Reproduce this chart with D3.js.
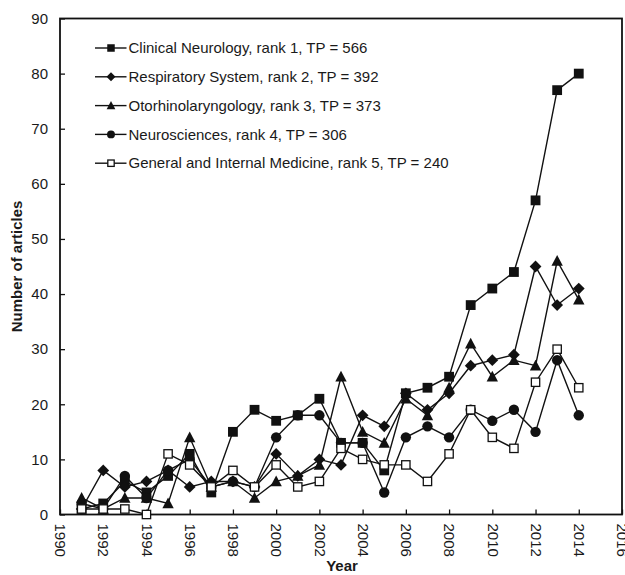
<!DOCTYPE html>
<html>
<head>
<meta charset="utf-8">
<script src="https://cdn.jsdelivr.net/npm/d3@7/dist/d3.min.js"></script>
<style>
  html, body { margin: 0; padding: 0; background: #fff; }
  svg { display: block; }
  text { font-family: "Liberation Sans", Arial, sans-serif; fill: #1a1a1a; }
</style>
</head>
<body>
<svg id="chart" width="625" height="575"></svg>
<script>
const years = [1991,1992,1993,1994,1995,1996,1997,1998,1999,2000,2001,2002,2003,2004,2005,2006,2007,2008,2009,2010,2011,2012,2013,2014];
const seriesNames = [
  "Clinical Neurology, rank 1, TP = 566",
  "Respiratory System, rank 2, TP = 392",
  "Otorhinolaryngology, rank 3, TP = 373",
  "Neurosciences, rank 4, TP = 306",
  "General and Internal Medicine, rank 5, TP = 240"
];
const clinicalNeurology = [1,2,6,4,7,11,4,15,19,17,18,21,13,13,8,22,23,25,38,41,44,57,77,80];
const respiratorySystem = [1,8,5,6,8,5,6,6,5,11,7,10,9,18,16,22,19,22,27,28,29,45,38,41];
const otorhinolaryngology = [3,1,3,3,2,14,5,6,3,6,7,9,25,15,13,21,18,23,31,25,28,27,46,39];
const neurosciences = [2,1,7,3,8,10,5,6,5,14,18,18,13,13,4,14,16,14,19,17,19,15,28,18];
const generalMedicine = [1,1,1,0,11,9,5,8,5,9,5,6,12,10,9,9,6,11,19,14,12,24,30,23];
const markerTypes = ["square","diamond","triangle","circle","openSquare"];
const xTicks = [1990,1992,1994,1996,1998,2000,2002,2004,2006,2008,2010,2012,2014,2016];
const yTicks = [0,10,20,30,40,50,60,70,80,90];

const allSeries = [clinicalNeurology, respiratorySystem, otorhinolaryngology, neurosciences, generalMedicine];

const svg = d3.select("#chart");
const L = 60, R = 622, T = 18.5, B = 514.5;
const x = d3.scaleLinear().domain([1990, 2016]).range([L, R]);
const y = d3.scaleLinear().domain([0, 90]).range([B, T]);

// frame
svg.append("rect").attr("x", L).attr("y", T).attr("width", R - L).attr("height", B - T)
  .attr("fill", "none").attr("stroke", "#111").attr("stroke-width", 1.8);

// y axis
const yAxis = d3.axisLeft(y).tickValues(yTicks).tickSizeInner(-5).tickSizeOuter(0).tickPadding(12);
const gy = svg.append("g").attr("transform", `translate(${L},0)`).call(yAxis);
gy.select(".domain").remove();
gy.selectAll(".tick line").attr("stroke", "#111").attr("stroke-width", 1.3);
gy.selectAll(".tick text").attr("font-size", 15).attr("font-family", "Liberation Sans, Arial, sans-serif").attr("fill", "#1a1a1a");

// x axis
const xAxis = d3.axisBottom(x).tickValues(xTicks).tickFormat(d3.format("d")).tickSizeInner(-5).tickSizeOuter(0);
const gx = svg.append("g").attr("transform", `translate(0,${B})`).call(xAxis);
gx.select(".domain").remove();
gx.selectAll(".tick line").attr("stroke", "#111").attr("stroke-width", 1.3);
gx.selectAll(".tick text")
  .attr("font-size", 15).attr("font-family", "Liberation Sans, Arial, sans-serif").attr("fill", "#1a1a1a")
  .attr("text-anchor", "start")
  .attr("transform", "rotate(90)")
  .attr("x", 9).attr("y", 0).attr("dy", "0.35em");

// axis titles
svg.append("text").attr("x", (L + R) / 2 + 1).attr("y", 571).attr("text-anchor", "middle")
  .attr("font-size", 15).attr("font-weight", "bold").text("Year");
svg.append("text").attr("transform", `translate(22,${(T + B) / 2}) rotate(-90)`).attr("text-anchor", "middle")
  .attr("font-size", 15).attr("font-weight", "bold").text("Number of articles");

function drawMarker(g, type, cx, cy, s) {
  if (type === "square") {
    g.append("rect").attr("x", cx - s/2).attr("y", cy - s/2).attr("width", s).attr("height", s).attr("fill", "#111");
  } else if (type === "diamond") {
    const h = s * 0.6;
    g.append("path").attr("d", `M${cx},${cy-h}L${cx+h},${cy}L${cx},${cy+h}L${cx-h},${cy}Z`).attr("fill", "#111");
  } else if (type === "triangle") {
    const w = s * 0.58, h = s * 0.55;
    g.append("path").attr("d", `M${cx},${cy-h*1.1}L${cx+w},${cy+h*0.9}L${cx-w},${cy+h*0.9}Z`).attr("fill", "#111");
  } else if (type === "circle") {
    g.append("circle").attr("cx", cx).attr("cy", cy).attr("r", s * 0.53).attr("fill", "#111");
  } else if (type === "openSquare") {
    const q = s * 0.85;
    g.append("rect").attr("x", cx - q/2).attr("y", cy - q/2).attr("width", q).attr("height", q)
      .attr("fill", "#fff").attr("stroke", "#111").attr("stroke-width", 1.3);
  }
}

const line = d3.line().x(d => x(d[0])).y(d => y(d[1]));

allSeries.forEach((vals, i) => {
  const pts = years.map((yr, j) => [yr, vals[j]]);
  const g = svg.append("g");
  g.append("path").attr("d", line(pts)).attr("fill", "none").attr("stroke", "#111").attr("stroke-width", 1.4);
  pts.forEach(p => drawMarker(g, markerTypes[i], x(p[0]), y(p[1]), 9.8));
});

// legend
const legend = svg.append("g");
const legY0 = 48, legDy = 28.8;
seriesNames.forEach((name, i) => {
  const ly = legY0 + i * legDy;
  legend.append("line").attr("x1", 95).attr("x2", 126.5).attr("y1", ly).attr("y2", ly)
    .attr("stroke", "#111").attr("stroke-width", 1.4);
  drawMarker(legend, markerTypes[i], 111, ly, 7.5);
  legend.append("text").attr("x", 128.5).attr("y", ly).attr("dy", "0.35em")
    .attr("font-size", 15).text(name);
});
</script>
</body>
</html>
